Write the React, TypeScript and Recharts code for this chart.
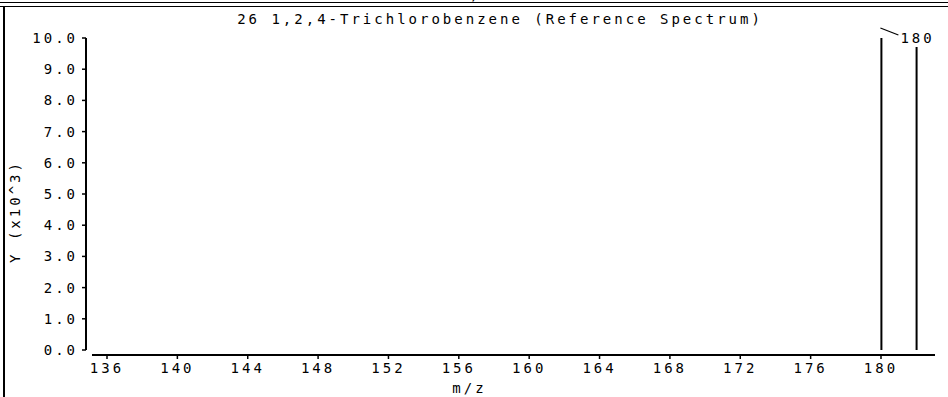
import React from 'react';
import {
  ComposedChart,
  Bar,
  XAxis,
  YAxis,
  ReferenceLine,
  LabelList,
} from 'recharts';

// peaks (intensity in x10^3)
const mzValues = [180, 182];
const intensities = [10.0, 9.71];
const labeledPeaks = [180];

const xTicks = [136, 140, 144, 148, 152, 156, 160, 164, 168, 172, 176, 180];
const yTicks = [0, 1, 2, 3, 4, 5, 6, 7, 8, 9, 10];

const title = '26 1,2,4-Trichlorobenzene (Reference Spectrum)';
const xLabel = 'm/z';
const yLabel = 'Y (x10^3)';

const X_MIN = 134.806;
const X_START = 135.147;
const X_MAX = 183.07;
const Y_MIN = -0.16;
const Y_MAX = 10;

const data = mzValues.map((mz, i) => ({ mz, intensity: intensities[i] }));

const FONT = '"DejaVu Sans Mono", monospace';
const tickStyle = { fontSize: 14, fill: '#000', fontFamily: FONT, letterSpacing: 3 };

const PeakLabel = (props: any) => {
  const { x, y, width, value } = props;
  if (!labeledPeaks.includes(value)) return null;
  const cx = x + width / 2;
  return (
    <g>
      <line x1={cx - 1} y1={y - 10} x2={cx + 17} y2={y - 3} stroke="#000" strokeWidth={1.2} />
      <text x={cx + 19} y={y + 5} fontSize={14} fontFamily={FONT} style={{ letterSpacing: 3 }} fill="#000">
        {value}
      </text>
    </g>
  );
};

const YLabel = (props: any) => {
  const { viewBox } = props;
  const cx = viewBox.x + 15;
  const cy = viewBox.y + viewBox.height / 2 + 15;
  return (
    <text
      x={cx}
      y={cy}
      transform={`rotate(-90, ${cx}, ${cy})`}
      textAnchor="middle"
      dominantBaseline="central"
      fontSize={14}
      fontFamily={FONT}
      style={{ letterSpacing: 3 }}
      fill="#000"
    >
      {yLabel}
    </text>
  );
};

export default function App() {
  return (
    <div
      style={{
        position: 'absolute',
        left: 0,
        top: 0,
        width: 948,
        height: 397,
        background: '#fff',
        overflow: 'hidden',
        fontFamily: FONT,
      }}
    >
      {/* cut-off label of the panel above */}
      <div style={{ position: 'absolute', left: 460, top: -12, fontSize: 14, lineHeight: '14px', letterSpacing: 3 }}>
        {xLabel}
      </div>
      {/* frame */}
      <div style={{ position: 'absolute', left: 0, top: 1.5, width: 948, height: 1.5, background: '#000' }} />
      <div style={{ position: 'absolute', left: 0, top: 5.5, width: 948, height: 1.5, background: '#000' }} />
      <div style={{ position: 'absolute', left: 3, top: 6, width: 2, height: 391, background: '#000' }} />
      <div
        style={{
          position: 'absolute',
          left: 0,
          width: 1000,
          top: 11,
          textAlign: 'center',
          fontSize: 14,
          lineHeight: '16px',
          letterSpacing: 3,
          whiteSpace: 'nowrap',
        }}
      >
        {title}
      </div>
      <ComposedChart
        width={948}
        height={397}
        data={data}
        margin={{ top: 38, right: 13, bottom: 12, left: 0 }}
        style={{ position: 'absolute', left: 0, top: 0 }}
      >
        <XAxis
          dataKey="mz"
          type="number"
          domain={[X_MIN, X_MAX]}
          ticks={xTicks}
          allowDataOverflow
          axisLine={false}
          tickLine={{ stroke: '#000', strokeWidth: 1.5 }}
          tickSize={4}
          tickMargin={4}
          tick={tickStyle}
          height={30}
          label={{ value: xLabel, position: 'insideBottom', offset: -8, dx: -41, style: tickStyle }}
        />
        <YAxis
          type="number"
          domain={[Y_MIN, Y_MAX]}
          ticks={yTicks}
          allowDataOverflow
          axisLine={false}
          tickLine={{ stroke: '#000', strokeWidth: 1.5 }}
          tickSize={4}
          tickMargin={4}
          tick={tickStyle}
          tickFormatter={(v: number) => v.toFixed(1)}
          width={86}
          label={<YLabel />}
        />
        <ReferenceLine
          segment={[{ x: X_MIN, y: 0 }, { x: X_MIN, y: Y_MAX }]}
          stroke="#000"
          strokeWidth={2}
          ifOverflow="visible"
        />
        <ReferenceLine
          segment={[{ x: X_START, y: Y_MIN }, { x: X_MAX, y: Y_MIN }]}
          stroke="#000"
          strokeWidth={2}
          ifOverflow="visible"
        />
        <Bar dataKey="intensity" barSize={2} fill="#000" isAnimationActive={false}>
          <LabelList dataKey="mz" content={<PeakLabel />} />
        </Bar>
      </ComposedChart>
    </div>
  );
}
